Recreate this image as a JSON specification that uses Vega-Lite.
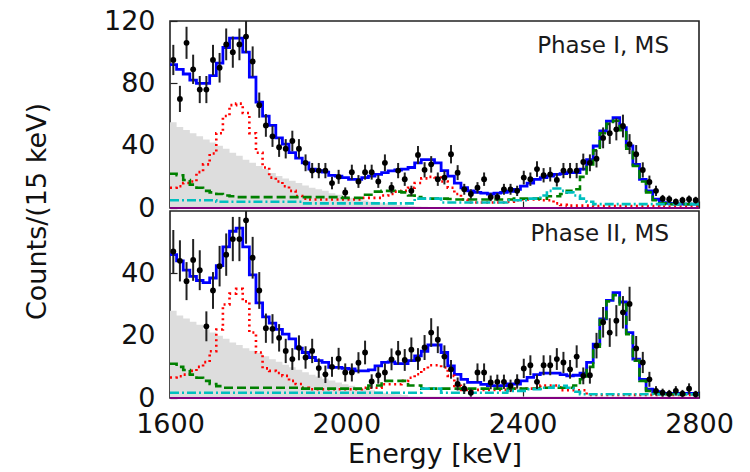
{
"$schema": "https://vega.github.io/schema/vega-lite/v6.json",
"background": "white",
"padding": {"left": 22, "top": 6, "right": 5, "bottom": 5},
"spacing": 3,
"bounds": "flush",
"config": {
  "font": "DejaVu Sans",
  "view": {"stroke": "#222222", "strokeWidth": 1.6},
  "axis": {"domain": false, "grid": false, "tickSize": -7, "tickColor": "#222222", "tickWidth": 1.2, "labelPadding": 22, "labelFontSize": 27, "labelColor": "#111111", "labelFlush": false, "format": "d", "titleFontSize": 27, "titleFontWeight": "normal", "titleColor": "#111111"}
},
"datasets": {
"phase1": [
{"lo":1600,"e":1607.5,"d":95,"err":9.7,"m":92,"r":13,"g":22,"c":5,"b":55},
{"lo":1615,"e":1622.5,"d":70,"err":8.4,"m":89,"r":14,"g":21,"c":5,"b":52},
{"lo":1630,"e":1637.5,"d":106,"err":10.3,"m":86,"r":16,"g":18,"c":5,"b":50},
{"lo":1645,"e":1652.5,"d":89,"err":9.4,"m":82,"r":17,"g":15,"c":5,"b":48},
{"lo":1660,"e":1667.5,"d":76,"err":8.7,"m":80,"r":23,"g":13,"c":5,"b":46},
{"lo":1675,"e":1682.5,"d":76,"err":8.7,"m":80,"r":28,"g":11,"c":5,"b":44},
{"lo":1690,"e":1697.5,"d":95,"err":9.7,"m":85,"r":35,"g":10,"c":5,"b":42},
{"lo":1705,"e":1712.5,"d":90,"err":9.5,"m":93,"r":48,"g":9,"c":4,"b":40},
{"lo":1720,"e":1727.5,"d":105,"err":10.2,"m":103,"r":59,"g":8,"c":4,"b":38},
{"lo":1735,"e":1742.5,"d":100,"err":10,"m":109,"r":66,"g":7.5,"c":4,"b":35.5},
{"lo":1750,"e":1757.5,"d":105,"err":10.2,"m":109,"r":67,"g":7,"c":4,"b":33.5},
{"lo":1765,"e":1772.5,"d":110,"err":10.5,"m":100,"r":61,"g":7,"c":4,"b":31},
{"lo":1780,"e":1787.5,"d":94,"err":9.7,"m":84,"r":48,"g":7,"c":4,"b":29},
{"lo":1795,"e":1802.5,"d":66,"err":8.1,"m":68,"r":35.5,"g":7,"c":4,"b":27},
{"lo":1810,"e":1817.5,"d":53,"err":7.3,"m":59,"r":26,"g":7,"c":4,"b":25},
{"lo":1825,"e":1832.5,"d":46,"err":6.8,"m":53,"r":19.5,"g":7,"c":4,"b":22.5},
{"lo":1840,"e":1847.5,"d":39,"err":6.2,"m":45,"r":17,"g":7,"c":4,"b":20.5},
{"lo":1855,"e":1862.5,"d":38,"err":6.2,"m":41,"r":14,"g":7,"c":4,"b":19},
{"lo":1870,"e":1877.5,"d":43,"err":6.6,"m":35.5,"r":11,"g":7,"c":4,"b":17.5},
{"lo":1885,"e":1892.5,"d":38,"err":6.2,"m":32,"r":7.7,"g":7,"c":4,"b":16},
{"lo":1900,"e":1907.5,"d":29,"err":5.4,"m":29,"r":6,"g":7,"c":3,"b":14.5},
{"lo":1915,"e":1922.5,"d":24,"err":4.9,"m":25,"r":5.5,"g":7,"c":3,"b":13},
{"lo":1930,"e":1937.5,"d":24,"err":4.9,"m":24,"r":5.5,"g":7,"c":3,"b":12},
{"lo":1945,"e":1952.5,"d":24,"err":4.9,"m":23,"r":5.5,"g":7,"c":3,"b":11},
{"lo":1960,"e":1967.5,"d":16,"err":4,"m":21,"r":5.5,"g":7,"c":3,"b":9.5},
{"lo":1975,"e":1982.5,"d":20,"err":4.5,"m":20.5,"r":5.5,"g":7,"c":3,"b":8.5},
{"lo":1990,"e":1997.5,"d":10,"err":3.2,"m":19.5,"r":5.5,"g":6.5,"c":3,"b":7.5},
{"lo":2005,"e":2012.5,"d":23,"err":4.8,"m":18.4,"r":5.5,"g":6.5,"c":3,"b":6.5},
{"lo":2020,"e":2027.5,"d":17,"err":4.1,"m":18.4,"r":5.5,"g":6.5,"c":3,"b":5.5},
{"lo":2035,"e":2042.5,"d":23,"err":4.8,"m":19.5,"r":6.5,"g":8.5,"c":3,"b":4.8},
{"lo":2050,"e":2057.5,"d":23,"err":4.8,"m":20.5,"r":6.5,"g":8.5,"c":3,"b":4},
{"lo":2065,"e":2072.5,"d":17,"err":4.1,"m":21.6,"r":6.5,"g":10.5,"c":3,"b":3.5},
{"lo":2080,"e":2087.5,"d":29,"err":5.4,"m":22.7,"r":8,"g":11,"c":3,"b":3},
{"lo":2095,"e":2102.5,"d":13,"err":3.6,"m":23.8,"r":9,"g":11,"c":3,"b":2.5},
{"lo":2110,"e":2117.5,"d":24,"err":4.9,"m":24.4,"r":10.5,"g":10.5,"c":3,"b":2},
{"lo":2125,"e":2132.5,"d":18.5,"err":4.3,"m":25,"r":11,"g":10,"c":3,"b":1.6},
{"lo":2140,"e":2147.5,"d":11,"err":3.3,"m":26,"r":13,"g":8,"c":3,"b":1.3},
{"lo":2155,"e":2162.5,"d":34,"err":5.8,"m":29,"r":16,"g":7,"c":6,"b":1},
{"lo":2170,"e":2177.5,"d":24.5,"err":4.9,"m":31,"r":19,"g":6,"c":6,"b":0.8},
{"lo":2185,"e":2192.5,"d":28,"err":5.3,"m":31,"r":20,"g":6,"c":6,"b":0.7},
{"lo":2200,"e":2207.5,"d":18.5,"err":4.3,"m":29,"r":19.6,"g":6,"c":6,"b":0.6},
{"lo":2215,"e":2222.5,"d":19.5,"err":4.4,"m":24,"r":17,"g":6,"c":3.5,"b":0.5},
{"lo":2230,"e":2237.5,"d":34.5,"err":5.9,"m":20.5,"r":13,"g":5.8,"c":3.5,"b":0.5},
{"lo":2245,"e":2252.5,"d":22.7,"err":4.8,"m":16,"r":9,"g":5.5,"c":3.5,"b":0.5},
{"lo":2260,"e":2267.5,"d":12,"err":3.5,"m":13,"r":5.5,"g":5.5,"c":3.5,"b":0.5},
{"lo":2275,"e":2282.5,"d":9,"err":3,"m":11,"r":3.5,"g":5.5,"c":3.5,"b":0.5},
{"lo":2290,"e":2297.5,"d":13,"err":3.6,"m":10,"r":3.5,"g":5.5,"c":3.5,"b":0.5},
{"lo":2305,"e":2312.5,"d":18.5,"err":4.3,"m":9.5,"r":3.5,"g":5.5,"c":3.5,"b":0.5},
{"lo":2320,"e":2327.5,"d":7,"err":2.6,"m":9,"r":3.5,"g":5.5,"c":3.5,"b":0.5},
{"lo":2335,"e":2342.5,"d":7,"err":2.6,"m":9.5,"r":3.5,"g":5.5,"c":3.5,"b":0.5},
{"lo":2350,"e":2357.5,"d":12,"err":3.5,"m":10,"r":3.5,"g":5.5,"c":3.5,"b":0.5},
{"lo":2365,"e":2372.5,"d":12,"err":3.5,"m":10.7,"r":4,"g":5.5,"c":5,"b":0.5},
{"lo":2380,"e":2387.5,"d":11,"err":3.3,"m":12,"r":5,"g":6,"c":5,"b":0.5},
{"lo":2395,"e":2402.5,"d":19.5,"err":4.4,"m":14,"r":5.5,"g":6,"c":5,"b":0.5},
{"lo":2410,"e":2417.5,"d":18.5,"err":4.3,"m":16,"r":5.5,"g":6,"c":6,"b":0.5},
{"lo":2425,"e":2432.5,"d":25,"err":5,"m":18.4,"r":5.5,"g":6,"c":6,"b":0.5},
{"lo":2440,"e":2447.5,"d":21,"err":4.6,"m":19.5,"r":5,"g":6,"c":8,"b":0.5},
{"lo":2455,"e":2462.5,"d":21.6,"err":4.6,"m":20.5,"r":5,"g":7.5,"c":11,"b":0.5},
{"lo":2470,"e":2477.5,"d":18,"err":4.2,"m":21.6,"r":3,"g":7.5,"c":12.5,"b":0.5},
{"lo":2485,"e":2492.5,"d":24,"err":4.9,"m":22,"r":2,"g":9,"c":11,"b":0.5},
{"lo":2500,"e":2507.5,"d":24,"err":4.9,"m":22.7,"r":1.5,"g":11,"c":10,"b":0.5},
{"lo":2515,"e":2522.5,"d":24,"err":4.9,"m":22.7,"r":1.5,"g":12,"c":8,"b":0.5},
{"lo":2530,"e":2537.5,"d":29.5,"err":5.4,"m":25,"r":1.5,"g":20,"c":6,"b":0.5},
{"lo":2545,"e":2552.5,"d":29,"err":5.4,"m":31,"r":1.5,"g":28,"c":4,"b":0.5},
{"lo":2560,"e":2567.5,"d":31.6,"err":5.6,"m":39.8,"r":1.2,"g":37,"c":2.5,"b":0.5},
{"lo":2575,"e":2582.5,"d":45,"err":6.7,"m":49.4,"r":1.2,"g":48,"c":2.5,"b":0.5},
{"lo":2590,"e":2597.5,"d":48,"err":6.9,"m":55.8,"r":1.2,"g":54,"c":2.5,"b":0.5},
{"lo":2605,"e":2612.5,"d":50.5,"err":7.1,"m":58,"r":1.2,"g":56,"c":2.5,"b":0.5},
{"lo":2620,"e":2627.5,"d":52.6,"err":7.3,"m":51.5,"r":1.2,"g":50,"c":2.5,"b":0.5},
{"lo":2635,"e":2642.5,"d":41,"err":6.4,"m":39.8,"r":1.2,"g":38,"c":2.5,"b":0.5},
{"lo":2650,"e":2657.5,"d":34.5,"err":5.9,"m":28,"r":1.2,"g":27,"c":2.5,"b":0.5},
{"lo":2665,"e":2672.5,"d":24.4,"err":4.9,"m":18.4,"r":1.2,"g":17,"c":2.5,"b":0.5},
{"lo":2680,"e":2687.5,"d":16.7,"err":4.1,"m":11,"r":1.2,"g":10,"c":2.5,"b":0.5},
{"lo":2695,"e":2702.5,"d":11,"err":3.3,"m":5.6,"r":1.2,"g":5,"c":2.5,"b":0.5},
{"lo":2710,"e":2717.5,"d":6,"err":2.4,"m":3.4,"r":1,"g":3,"c":2.5,"b":0.5},
{"lo":2725,"e":2732.5,"d":5.6,"err":2.4,"m":3,"r":1,"g":2.5,"c":2.5,"b":0.5},
{"lo":2740,"e":2747.5,"d":4,"err":2,"m":2.7,"r":1,"g":2.5,"c":2.5,"b":0.5},
{"lo":2755,"e":2762.5,"d":5,"err":2.2,"m":2.5,"r":1,"g":2.5,"c":2.5,"b":0.5},
{"lo":2770,"e":2777.5,"d":5.6,"err":2.4,"m":2.5,"r":1,"g":2.5,"c":2.5,"b":0.5},
{"lo":2785,"e":2792.5,"d":5,"err":2.2,"m":2.5,"r":1,"g":2.5,"c":2.5,"b":0.5},
{"lo":2800,"e":null,"d":null,"err":null,"m":2.5,"r":1,"g":2.5,"c":2.5,"b":0.5}
],
"phase2": [
{"lo":1600,"e":1607.5,"d":47,"err":6.9,"m":46,"r":6.6,"g":11,"c":1.7,"b":28},
{"lo":1615,"e":1622.5,"d":44,"err":6.6,"m":44,"r":7,"g":10,"c":1.7,"b":26.5},
{"lo":1630,"e":1637.5,"d":37.5,"err":6.1,"m":41,"r":7.5,"g":9,"c":1.7,"b":25.5},
{"lo":1645,"e":1652.5,"d":44.3,"err":6.7,"m":39,"r":8.7,"g":7.5,"c":1.7,"b":24.5},
{"lo":1660,"e":1667.5,"d":41,"err":6.4,"m":37.7,"r":10,"g":6.5,"c":1.7,"b":23.5},
{"lo":1675,"e":1682.5,"d":23,"err":4.8,"m":37,"r":11.5,"g":5.5,"c":1.7,"b":22},
{"lo":1690,"e":1697.5,"d":34.5,"err":5.9,"m":38.5,"r":15,"g":4.5,"c":1.7,"b":21},
{"lo":1705,"e":1712.5,"d":42.3,"err":6.5,"m":42.5,"r":22,"g":3.8,"c":1.7,"b":20},
{"lo":1720,"e":1727.5,"d":46,"err":6.8,"m":48.5,"r":30,"g":3.3,"c":1.7,"b":19},
{"lo":1735,"e":1742.5,"d":51,"err":7.1,"m":53.5,"r":33.5,"g":3.3,"c":1.7,"b":17.8},
{"lo":1750,"e":1757.5,"d":51,"err":7.1,"m":54.5,"r":35,"g":3.3,"c":1.7,"b":17},
{"lo":1765,"e":1772.5,"d":57,"err":7.5,"m":48.5,"r":31,"g":3.3,"c":1.7,"b":16},
{"lo":1780,"e":1787.5,"d":45,"err":6.7,"m":39.5,"r":21,"g":3.3,"c":1.7,"b":15.2},
{"lo":1795,"e":1802.5,"d":34.5,"err":5.9,"m":30.5,"r":14.6,"g":3.3,"c":1.7,"b":14.4},
{"lo":1810,"e":1817.5,"d":22.4,"err":4.7,"m":26,"r":9.5,"g":3.3,"c":1.7,"b":13.4},
{"lo":1825,"e":1832.5,"d":22.2,"err":4.7,"m":24,"r":8.7,"g":3.3,"c":1.7,"b":12.4},
{"lo":1840,"e":1847.5,"d":19.3,"err":4.4,"m":22,"r":8,"g":3.3,"c":1.7,"b":11.6},
{"lo":1855,"e":1862.5,"d":15.1,"err":3.9,"m":20.5,"r":7.1,"g":3.3,"c":1.7,"b":10.7},
{"lo":1870,"e":1877.5,"d":12.5,"err":3.5,"m":19,"r":5.5,"g":3.3,"c":1.7,"b":9.9},
{"lo":1885,"e":1892.5,"d":16.1,"err":4,"m":16,"r":4.5,"g":3.3,"c":1.7,"b":9.1},
{"lo":1900,"e":1907.5,"d":13,"err":3.6,"m":14.6,"r":3.3,"g":3,"c":1.7,"b":8.3},
{"lo":1915,"e":1922.5,"d":15.1,"err":3.9,"m":13,"r":2.8,"g":3,"c":1.7,"b":7.5},
{"lo":1930,"e":1937.5,"d":9.6,"err":3.1,"m":12,"r":2.8,"g":3,"c":1.7,"b":6.9},
{"lo":1945,"e":1952.5,"d":7.6,"err":2.8,"m":11.4,"r":2.8,"g":3,"c":1.7,"b":6.2},
{"lo":1960,"e":1967.5,"d":10,"err":3.2,"m":9.8,"r":2.8,"g":3,"c":1.7,"b":5.6},
{"lo":1975,"e":1982.5,"d":12.6,"err":3.5,"m":9.8,"r":2.8,"g":3,"c":1.7,"b":5},
{"lo":1990,"e":1997.5,"d":8.2,"err":2.9,"m":9.5,"r":2.8,"g":3,"c":1.7,"b":4.4},
{"lo":2005,"e":2012.5,"d":8.2,"err":2.9,"m":9.3,"r":2.8,"g":3,"c":1.7,"b":3.9},
{"lo":2020,"e":2027.5,"d":11.3,"err":3.4,"m":8.7,"r":2.8,"g":3,"c":1.7,"b":3.4},
{"lo":2035,"e":2042.5,"d":14.6,"err":3.8,"m":8.7,"r":3.3,"g":3,"c":1.7,"b":3},
{"lo":2050,"e":2057.5,"d":5.3,"err":2.3,"m":9,"r":3.3,"g":4,"c":1.7,"b":2.5},
{"lo":2065,"e":2072.5,"d":7.3,"err":2.7,"m":10.3,"r":3.3,"g":4,"c":1.7,"b":2.1},
{"lo":2080,"e":2087.5,"d":8.2,"err":2.9,"m":11.4,"r":4.4,"g":5.5,"c":1.7,"b":1.7},
{"lo":2095,"e":2102.5,"d":12.4,"err":3.5,"m":11.6,"r":4.4,"g":5.5,"c":1.7,"b":1.4},
{"lo":2110,"e":2117.5,"d":14.5,"err":3.8,"m":11,"r":4.4,"g":5.5,"c":1.7,"b":1.2},
{"lo":2125,"e":2132.5,"d":12.2,"err":3.5,"m":11,"r":5.5,"g":5.5,"c":1.7,"b":1},
{"lo":2140,"e":2147.5,"d":15.5,"err":3.9,"m":12,"r":6.5,"g":4,"c":1.7,"b":0.5},
{"lo":2155,"e":2162.5,"d":12.5,"err":3.5,"m":13.5,"r":7.6,"g":4,"c":1.7,"b":0.5},
{"lo":2170,"e":2177.5,"d":16.2,"err":4,"m":15,"r":9.2,"g":3,"c":3,"b":0.5},
{"lo":2185,"e":2192.5,"d":21,"err":4.6,"m":17,"r":10.5,"g":3,"c":3,"b":0.5},
{"lo":2200,"e":2207.5,"d":18.7,"err":4.3,"m":17,"r":10.5,"g":3,"c":3,"b":0.5},
{"lo":2215,"e":2222.5,"d":13.3,"err":3.6,"m":14.6,"r":9.8,"g":3,"c":1.7,"b":0.5},
{"lo":2230,"e":2237.5,"d":9.2,"err":3,"m":10.3,"r":7.1,"g":3,"c":1.7,"b":0.5},
{"lo":2245,"e":2252.5,"d":4.5,"err":2.1,"m":7.6,"r":3.9,"g":3,"c":1.7,"b":0.5},
{"lo":2260,"e":2267.5,"d":3,"err":1.7,"m":6,"r":2.6,"g":3,"c":1.7,"b":0.5},
{"lo":2275,"e":2282.5,"d":1.7,"err":1.3,"m":5,"r":2.6,"g":3,"c":1.7,"b":0.5},
{"lo":2290,"e":2297.5,"d":8.2,"err":2.9,"m":5,"r":2.6,"g":3,"c":1.7,"b":0.5},
{"lo":2305,"e":2312.5,"d":8.2,"err":2.9,"m":4.4,"r":2.6,"g":3,"c":1.7,"b":0.5},
{"lo":2320,"e":2327.5,"d":5,"err":2.2,"m":4,"r":2.6,"g":3,"c":1.7,"b":0.5},
{"lo":2335,"e":2342.5,"d":5.2,"err":2.3,"m":3.9,"r":2.6,"g":3,"c":1.7,"b":0.5},
{"lo":2350,"e":2357.5,"d":5.2,"err":2.3,"m":4,"r":2.6,"g":3,"c":1.7,"b":0.5},
{"lo":2365,"e":2372.5,"d":3.9,"err":2,"m":4.5,"r":2.6,"g":3,"c":2.3,"b":0.5},
{"lo":2380,"e":2387.5,"d":5.3,"err":2.3,"m":4.5,"r":3,"g":3,"c":2.3,"b":0.5},
{"lo":2395,"e":2402.5,"d":9.5,"err":3.1,"m":5.5,"r":3,"g":3,"c":2.3,"b":0.5},
{"lo":2410,"e":2417.5,"d":10.5,"err":3.2,"m":6.6,"r":3,"g":3,"c":2.8,"b":0.5},
{"lo":2425,"e":2432.5,"d":5.2,"err":2.3,"m":7.5,"r":3,"g":3,"c":2.8,"b":0.5},
{"lo":2440,"e":2447.5,"d":10.5,"err":3.2,"m":8,"r":4,"g":3.3,"c":3.3,"b":0.5},
{"lo":2455,"e":2462.5,"d":10.5,"err":3.2,"m":8,"r":4,"g":3.3,"c":3.3,"b":0.5},
{"lo":2470,"e":2477.5,"d":12.5,"err":3.5,"m":8,"r":4,"g":3.3,"c":3.9,"b":0.5},
{"lo":2485,"e":2492.5,"d":11.4,"err":3.4,"m":7.5,"r":2.5,"g":3.3,"c":3.9,"b":0.5},
{"lo":2500,"e":2507.5,"d":9.2,"err":3,"m":7.1,"r":2.5,"g":3.3,"c":3.3,"b":0.5},
{"lo":2515,"e":2522.5,"d":13.3,"err":3.6,"m":7.3,"r":2.5,"g":4,"c":2,"b":0.5},
{"lo":2530,"e":2537.5,"d":7.1,"err":2.7,"m":8,"r":2.5,"g":6,"c":1.2,"b":0.5},
{"lo":2545,"e":2552.5,"d":7.3,"err":2.7,"m":11.4,"r":1,"g":10,"c":1.2,"b":0.5},
{"lo":2560,"e":2567.5,"d":16.8,"err":4.1,"m":17.3,"r":1,"g":16.5,"c":1.2,"b":0.5},
{"lo":2575,"e":2582.5,"d":24.3,"err":4.9,"m":25.4,"r":1,"g":25,"c":1.2,"b":0.5},
{"lo":2590,"e":2597.5,"d":21,"err":4.6,"m":31.3,"r":1,"g":31,"c":1.2,"b":0.5},
{"lo":2605,"e":2612.5,"d":24.8,"err":5,"m":33.8,"r":1,"g":33,"c":1.2,"b":0.5},
{"lo":2620,"e":2627.5,"d":27.5,"err":5.2,"m":30.8,"r":1,"g":30,"c":1.2,"b":0.5},
{"lo":2635,"e":2642.5,"d":30.2,"err":5.5,"m":21,"r":1,"g":20.5,"c":1.2,"b":0.5},
{"lo":2650,"e":2657.5,"d":15.9,"err":4,"m":12.5,"r":1,"g":12,"c":1.2,"b":0.5},
{"lo":2665,"e":2672.5,"d":11.4,"err":3.4,"m":6,"r":1,"g":5.5,"c":1.2,"b":0.5},
{"lo":2680,"e":2687.5,"d":6,"err":2.4,"m":2.8,"r":1,"g":2.3,"c":1.2,"b":0.5},
{"lo":2695,"e":2702.5,"d":2.3,"err":1.5,"m":2,"r":1,"g":1.5,"c":1.2,"b":0.5},
{"lo":2710,"e":2717.5,"d":1.7,"err":1.3,"m":1.5,"r":1,"g":1.2,"c":1.2,"b":0.5},
{"lo":2725,"e":2732.5,"d":1.4,"err":1.2,"m":1.5,"r":1,"g":1.2,"c":1.2,"b":0.5},
{"lo":2740,"e":2747.5,"d":2.3,"err":1.5,"m":1.5,"r":1,"g":1.2,"c":1.2,"b":0.5},
{"lo":2755,"e":2762.5,"d":1.4,"err":1.2,"m":1.5,"r":1,"g":1.2,"c":1.2,"b":0.5},
{"lo":2770,"e":2777.5,"d":3,"err":1.7,"m":1.5,"r":1,"g":1.2,"c":1.2,"b":0.5},
{"lo":2785,"e":2792.5,"d":1.2,"err":1.1,"m":1.5,"r":1,"g":1.2,"c":1.2,"b":0.5},
{"lo":2800,"e":null,"d":null,"err":null,"m":1.5,"r":1,"g":1.2,"c":1.2,"b":0.5}
]
},
"vconcat": [
{
  "width": 529, "height": 187,
  "data": {"name": "phase1"},
  "layer": [
    {"mark": {"type": "area", "interpolate": "step-after", "color": "#dddddd"},
     "encoding": {
       "x": {"field": "lo", "type": "quantitative", "title": null, "scale": {"domain": [1600, 2800], "nice": false, "zero": false}, "axis": {"values": [1600, 2000, 2400, 2800], "labels": false}},
       "y": {"field": "b", "type": "quantitative", "title": "Counts/(15 keV)", "scale": {"domain": [0, 120], "nice": false}, "axis": {"values": [0, 40, 80, 120], "titleY": 190, "titlePadding": 52}}}},
    {"mark": {"type": "line", "interpolate": "step-after", "color": "#0000ff", "strokeWidth": 2.8},
     "encoding": {"x": {"field": "lo", "type": "quantitative", "title": null}, "y": {"field": "m", "type": "quantitative", "title": "Counts/(15 keV)"}}},
    {"mark": {"type": "line", "interpolate": "step-after", "color": "#ff0000", "strokeWidth": 2.6, "strokeDash": [2, 3.5]},
     "encoding": {"x": {"field": "lo", "type": "quantitative", "title": null}, "y": {"field": "r", "type": "quantitative", "title": "Counts/(15 keV)"}}},
    {"mark": {"type": "line", "interpolate": "step-after", "color": "#008000", "strokeWidth": 2.6, "strokeDash": [9, 4]},
     "encoding": {"x": {"field": "lo", "type": "quantitative", "title": null}, "y": {"field": "g", "type": "quantitative", "title": "Counts/(15 keV)"}}},
    {"mark": {"type": "line", "interpolate": "step-after", "color": "#00bfbf", "strokeWidth": 2.6, "strokeDash": [9, 3, 2, 3]},
     "encoding": {"x": {"field": "lo", "type": "quantitative", "title": null}, "y": {"field": "c", "type": "quantitative", "title": "Counts/(15 keV)"}}},
    {"data": {"values": [{"z": 0}]},
     "mark": {"type": "rule", "color": "#800080", "strokeWidth": 2}, "encoding": {"y": {"field": "z", "type": "quantitative", "title": "Counts/(15 keV)"}}},
    {"transform": [{"filter": "isValid(datum.d)"}],
     "mark": {"type": "errorbar", "color": "#222222", "thickness": 2, "clip": true},
     "encoding": {"x": {"field": "e", "type": "quantitative", "title": null}, "y": {"field": "d", "type": "quantitative", "title": "Counts/(15 keV)"}, "yError": {"field": "err"}}},
    {"transform": [{"filter": "isValid(datum.d)"}],
     "mark": {"type": "point", "filled": true, "color": "#000000", "size": 34, "opacity": 1},
     "encoding": {"x": {"field": "e", "type": "quantitative", "title": null}, "y": {"field": "d", "type": "quantitative", "title": "Counts/(15 keV)"}}},
    {"data": {"values": [{"t": "Phase I, MS"}]},
     "mark": {"type": "text", "align": "right", "baseline": "middle", "fontSize": 23, "color": "#1a1a1a", "dx": -30, "dy": 25},
     "encoding": {"text": {"field": "t"}, "x": {"datum": 2800, "title": null}, "y": {"datum": 120, "title": "Counts/(15 keV)"}}}
  ]
},
{
  "width": 529, "height": 187,
  "data": {"name": "phase2"},
  "layer": [
    {"mark": {"type": "area", "interpolate": "step-after", "color": "#dddddd"},
     "encoding": {
       "x": {"field": "lo", "type": "quantitative", "title": "Energy [keV]", "scale": {"domain": [1600, 2800], "nice": false, "zero": false}, "axis": {"values": [1600, 2000, 2400, 2800], "labelPadding": 20, "titlePadding": 4}},
       "y": {"field": "b", "type": "quantitative", "title": null, "scale": {"domain": [0, 60], "nice": false}, "axis": {"values": [0, 20, 40]}}}},
    {"mark": {"type": "line", "interpolate": "step-after", "color": "#0000ff", "strokeWidth": 2.8},
     "encoding": {"x": {"field": "lo", "type": "quantitative", "title": "Energy [keV]"}, "y": {"field": "m", "type": "quantitative", "title": null}}},
    {"mark": {"type": "line", "interpolate": "step-after", "color": "#ff0000", "strokeWidth": 2.6, "strokeDash": [2, 3.5]},
     "encoding": {"x": {"field": "lo", "type": "quantitative", "title": "Energy [keV]"}, "y": {"field": "r", "type": "quantitative", "title": null}}},
    {"mark": {"type": "line", "interpolate": "step-after", "color": "#008000", "strokeWidth": 2.6, "strokeDash": [9, 4]},
     "encoding": {"x": {"field": "lo", "type": "quantitative", "title": "Energy [keV]"}, "y": {"field": "g", "type": "quantitative", "title": null}}},
    {"mark": {"type": "line", "interpolate": "step-after", "color": "#00bfbf", "strokeWidth": 2.6, "strokeDash": [9, 3, 2, 3]},
     "encoding": {"x": {"field": "lo", "type": "quantitative", "title": "Energy [keV]"}, "y": {"field": "c", "type": "quantitative", "title": null}}},
    {"data": {"values": [{"z": 0}]},
     "mark": {"type": "rule", "color": "#800080", "strokeWidth": 2}, "encoding": {"y": {"field": "z", "type": "quantitative", "title": null}}},
    {"transform": [{"filter": "isValid(datum.d)"}],
     "mark": {"type": "errorbar", "color": "#222222", "thickness": 2, "clip": true},
     "encoding": {"x": {"field": "e", "type": "quantitative", "title": "Energy [keV]"}, "y": {"field": "d", "type": "quantitative", "title": null}, "yError": {"field": "err"}}},
    {"transform": [{"filter": "isValid(datum.d)"}],
     "mark": {"type": "point", "filled": true, "color": "#000000", "size": 34, "opacity": 1},
     "encoding": {"x": {"field": "e", "type": "quantitative", "title": "Energy [keV]"}, "y": {"field": "d", "type": "quantitative", "title": null}}},
    {"data": {"values": [{"t": "Phase II, MS"}]},
     "mark": {"type": "text", "align": "right", "baseline": "middle", "fontSize": 23, "color": "#1a1a1a", "dx": -30, "dy": 23},
     "encoding": {"text": {"field": "t"}, "x": {"datum": 2800, "title": "Energy [keV]"}, "y": {"datum": 60, "title": null}}}
  ]
}
]
}
